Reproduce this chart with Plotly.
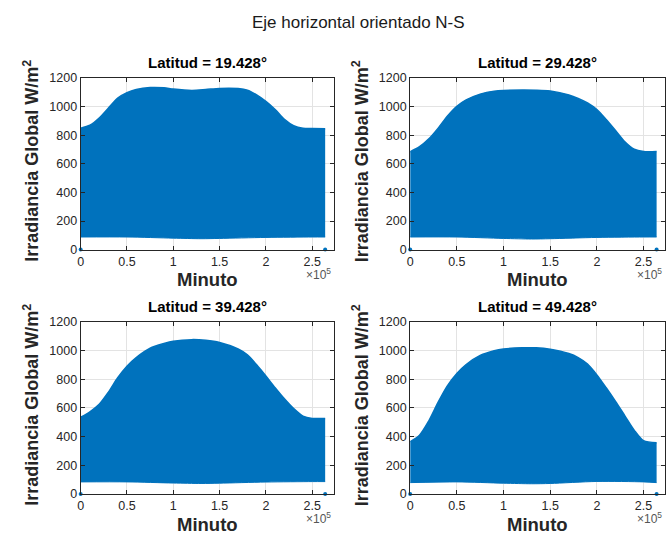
import plotly.graph_objects as go

W, H = 667, 543

# ---------------- data ----------------
titles = ["Latitud = 19.428°", "Latitud = 29.428°", "Latitud = 39.428°", "Latitud = 49.428°"]

upper_x = [0, 10000, 20000, 30000, 40000, 50000, 60000, 75000, 90000, 100000, 120000, 135000,
           150000, 170000, 180000, 190000, 200000, 210000, 220000, 230000, 240000, 250000, 264000]
upper_19 = [850, 870, 920, 990, 1060, 1098, 1120, 1134, 1132, 1123, 1114, 1120,
            1128, 1127, 1116, 1082, 1037, 980, 912, 867, 849, 847, 845]
upper_29 = [685, 720, 775, 850, 935, 1003, 1048, 1088, 1109, 1114, 1116, 1115,
            1109, 1082, 1058, 1026, 980, 910, 833, 754, 702, 686, 686]
upper_39 = [535, 573, 625, 710, 810, 890, 950, 1015, 1048, 1064, 1075, 1070,
            1055, 1010, 969, 900, 822, 740, 663, 595, 543, 527, 527]
upper_49 = [365, 410, 510, 640, 755, 840, 902, 965, 998, 1010, 1018, 1018,
            1008, 978, 950, 905, 830, 740, 645, 545, 445, 372, 358]

lower_x = [0, 50000, 100000, 130000, 150000, 200000, 250000, 264000]
lower_19 = [88, 88, 80, 76, 78, 85, 88, 88]
lower_29 = [88, 88, 78, 74, 76, 85, 88, 88]
lower_39 = [85, 85, 77, 74, 76, 84, 87, 87]
lower_49 = [80, 85, 76, 72, 74, 88, 85, 80]

# isolated zero-valued points at the ends of each series
zero_x = [0, 264000]
zero_y = [0, 0]

x_tickvals = [0, 50000, 100000, 150000, 200000, 250000]
x_ticktext = ["0", "0.5", "1", "1.5", "2", "2.5"]
y_tickvals = [0, 200, 400, 600, 800, 1000, 1200]

uppers = [upper_19, upper_29, upper_39, upper_49]
lowers = [lower_19, lower_29, lower_39, lower_49]

# ---------------- layout geometry (pixels) ----------------
panels = [  # x0, x1, ytop, ybottom
    (78, 332, 73, 249),
    (409, 665, 73, 249),
    (78, 332, 323, 500),
    (409, 665, 323, 500),
]

BLUE = "#0072BD"
AX = "#262626"
FONT = "Liberation Sans, Arial, Helvetica, sans-serif"

fig = go.Figure()
layout = dict(
    width=W, height=H,
    margin=dict(l=0, r=0, t=0, b=0),
    paper_bgcolor="white", plot_bgcolor="white",
    showlegend=False,
    font=dict(family=FONT, color=AX),
    annotations=[],
)

def px(x):
    return x / W

def py(y):
    return 1 - y / H

for i in range(4):
    n = "" if i == 0 else str(i + 1)
    xa, ya = "x" + n, "y" + n
    x0, x1, yt, yb = panels[i]

    fig.add_trace(go.Scatter(x=lower_x, y=lowers[i], mode="lines",
                             line=dict(color=BLUE, width=1, shape="spline", smoothing=0.8),
                             xaxis=xa, yaxis=ya, hoverinfo="skip"))
    fig.add_trace(go.Scatter(x=upper_x, y=uppers[i], mode="lines",
                             line=dict(color=BLUE, width=1.5, shape="spline", smoothing=0.8),
                             fill="tonexty", fillcolor=BLUE,
                             xaxis=xa, yaxis=ya, hoverinfo="skip"))
    fig.add_trace(go.Scatter(x=zero_x, y=zero_y, mode="markers",
                             marker=dict(color=BLUE, size=4),
                             xaxis=xa, yaxis=ya, cliponaxis=False))

    axis_common = dict(
        showline=True, linecolor=AX, linewidth=1, mirror="ticks",
        ticks="inside", ticklen=4, tickcolor=AX, tickwidth=1,
        showgrid=True, gridcolor="#e3e3e3", gridwidth=1, zeroline=False,
        tickfont=dict(family=FONT, size=12.5, color=AX),
    )
    layout["xaxis" + n] = dict(axis_common, domain=[px(x0), px(x1)], range=[0, 273000],
                               tickvals=x_tickvals, ticktext=x_ticktext, anchor=ya)
    layout["yaxis" + n] = dict(axis_common, domain=[py(yb), py(yt)], range=[0, 1200],
                               tickvals=y_tickvals, anchor=xa)

    cx = (x0 + x1) / 2
    # subplot title
    layout["annotations"].append(dict(
        text="<b>%s</b>" % titles[i], x=px(cx), y=py(yt - 5), xref="paper", yref="paper",
        xanchor="center", yanchor="bottom", showarrow=False,
        font=dict(family=FONT, size=15, color="#000000")))
    # x label
    layout["annotations"].append(dict(
        text="<b>Minuto</b>", x=px(cx), y=py(yb + 31), xref="paper", yref="paper",
        xanchor="center", yanchor="middle", showarrow=False,
        font=dict(family=FONT, size=18.5, color=AX)))
    # exponent
    layout["annotations"].append(dict(
        text="×10<sup>5</sup>", x=px(x1 - 1), y=py(yb + 25), xref="paper", yref="paper",
        xanchor="right", yanchor="middle", showarrow=False,
        font=dict(family=FONT, size=12, color="#555555")))
    # y label
    ylx = 29 if x0 < 200 else 360
    layout["annotations"].append(dict(
        text="<b>Irradiancia Global W/m<sup>2</sup></b>", x=px(ylx), y=py((yt + yb) / 2 - 3),
        xref="paper", yref="paper", xanchor="center", yanchor="middle",
        textangle=-90, showarrow=False,
        font=dict(family=FONT, size=18, color=AX)))

# main title
layout["annotations"].append(dict(
    text="Eje horizontal orientado N-S", x=px(357), y=py(16), xref="paper", yref="paper",
    xanchor="center", yanchor="middle", showarrow=False,
    font=dict(family=FONT, size=17, color="#1a1a1a")))

fig.update_layout(**layout)
fig.write_html("out.html")
